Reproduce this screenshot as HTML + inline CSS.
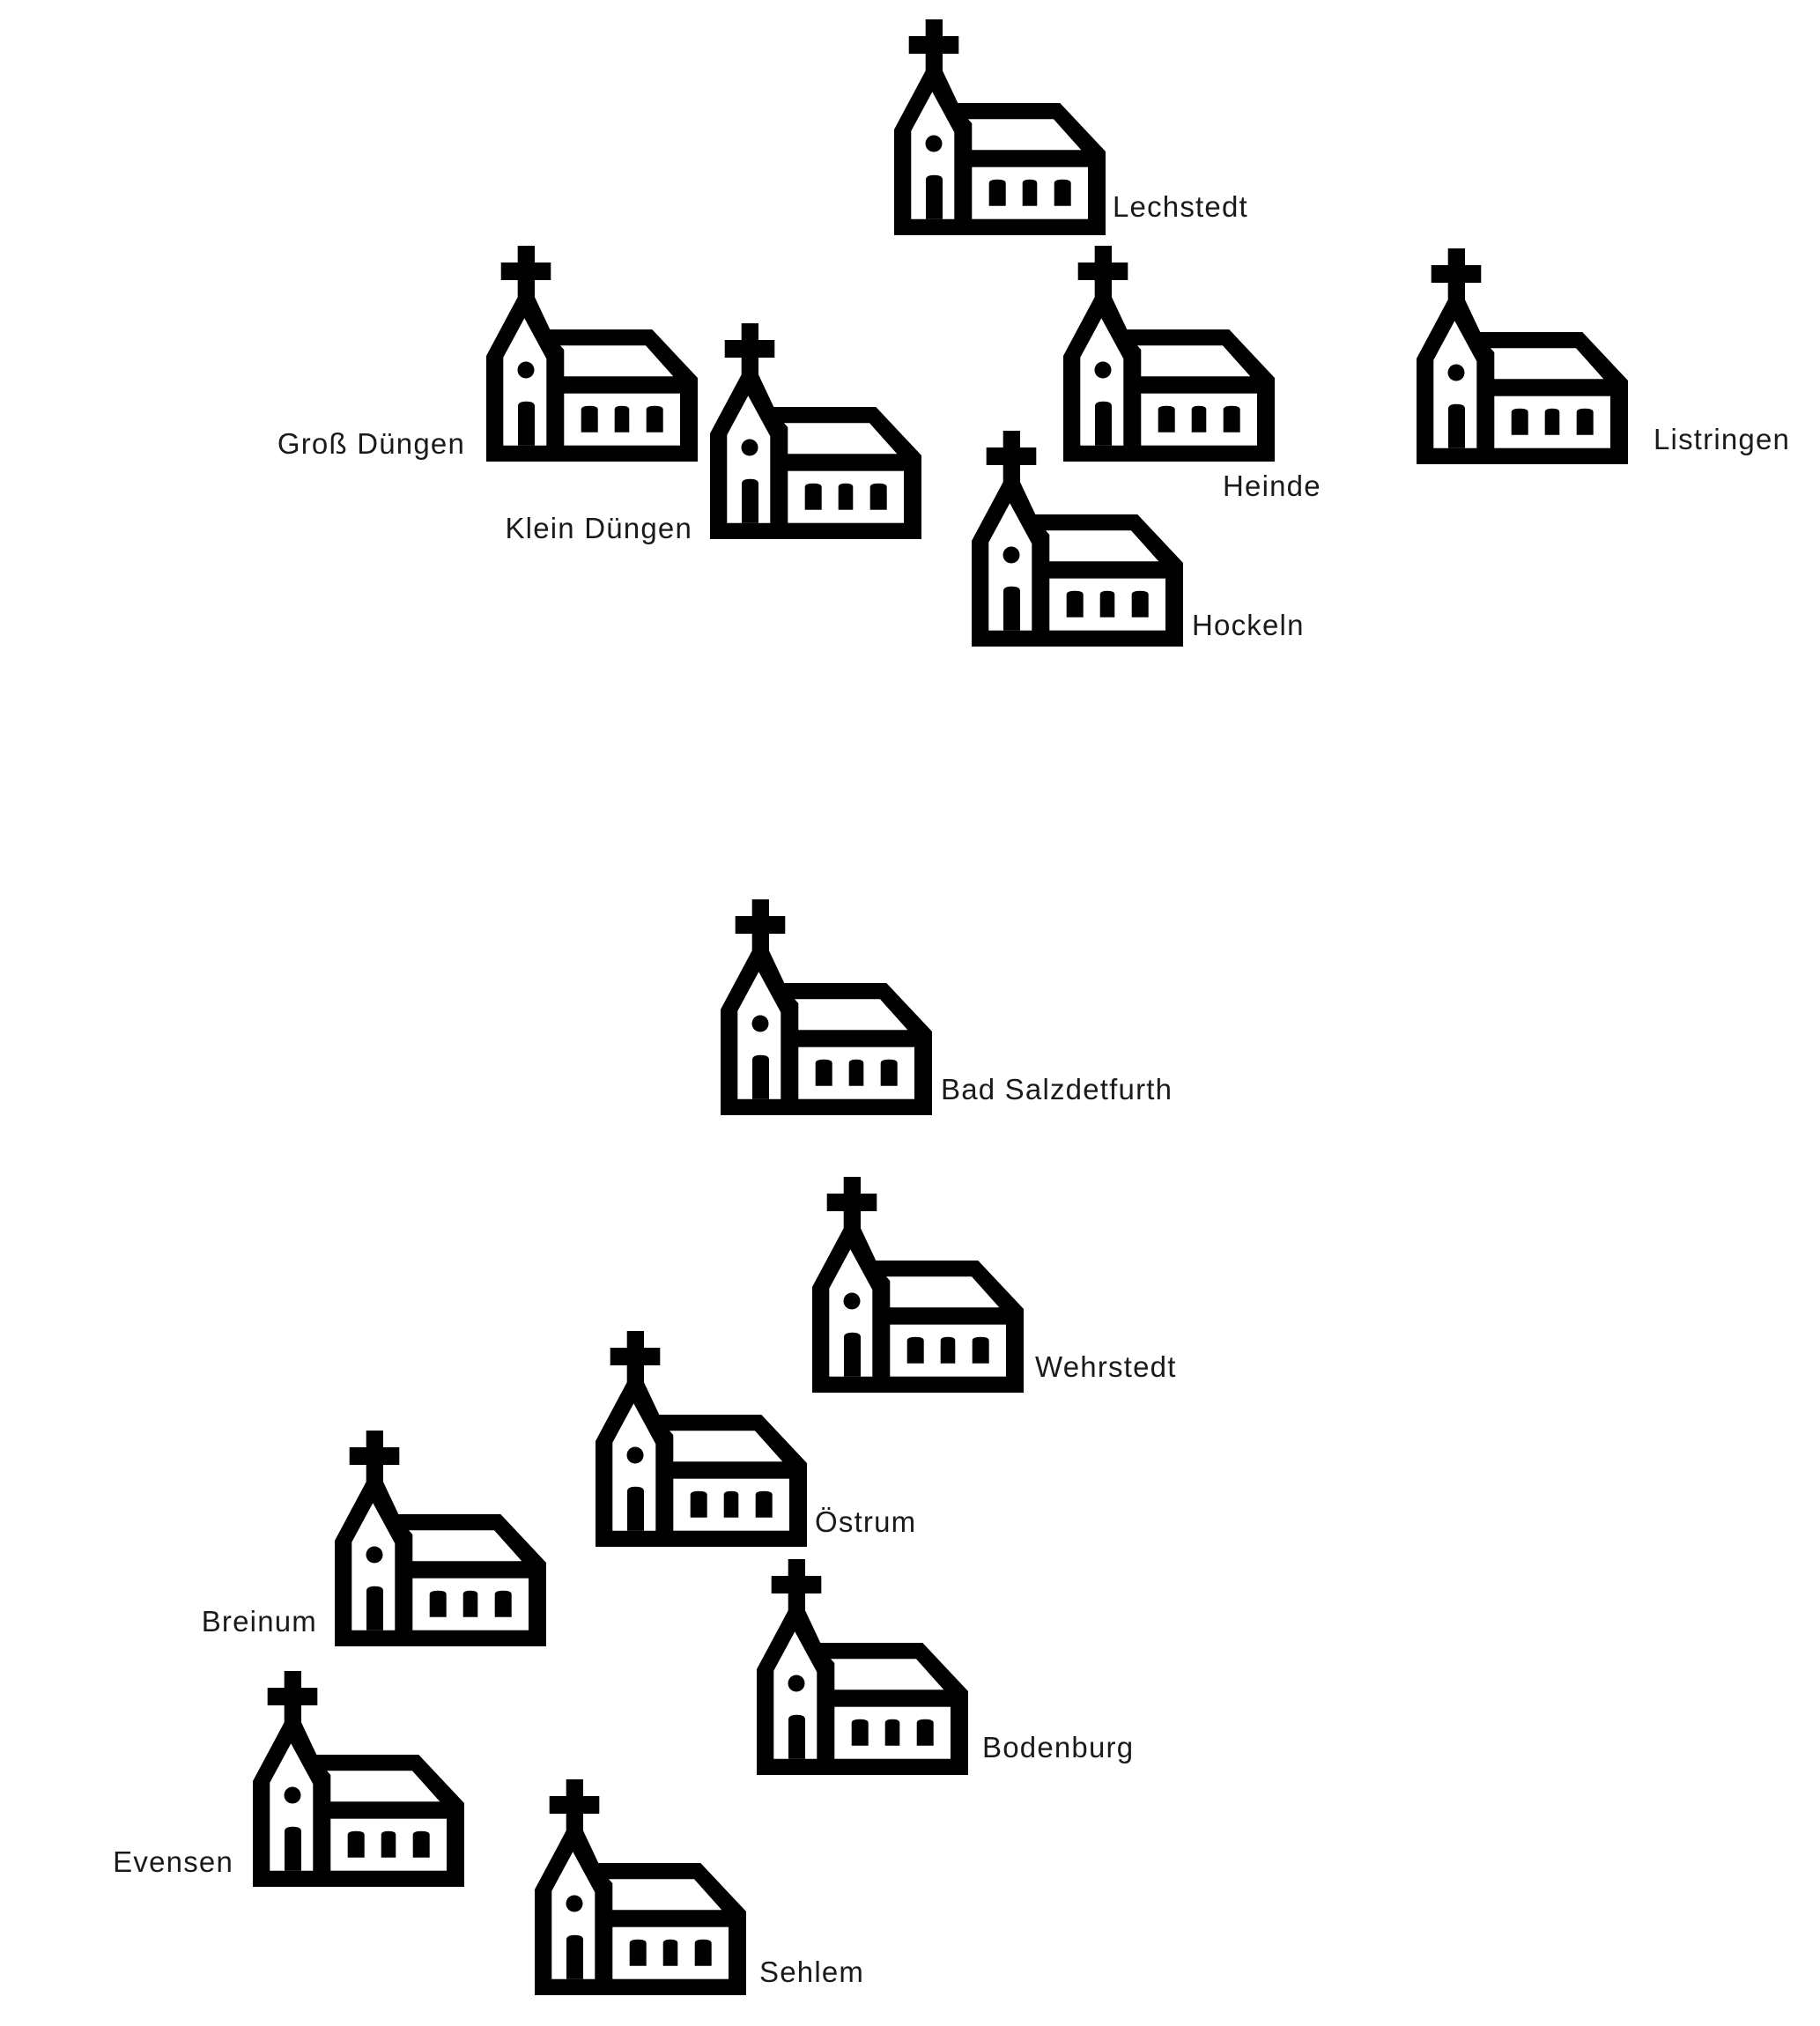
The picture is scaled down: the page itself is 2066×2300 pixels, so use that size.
<!DOCTYPE html>
<html><head><meta charset="utf-8"><style>
html,body{margin:0;padding:0;background:#fff;}
svg{display:block;}
text{font-family:"Liberation Sans",sans-serif;font-size:33px;letter-spacing:1.2px;fill:#1a1a1a;}
</style></head><body>
<svg width="2066" height="2300" viewBox="0 0 2066 2300" xmlns="http://www.w3.org/2000/svg">
<defs>
<g id="ch">
<rect x="35.7" y="0" width="19.3" height="62" fill="#000"/>
<rect x="16.7" y="19" width="56.6" height="20" fill="#000"/>
<polygon points="0,125 35.7,58.3 55,58.3 72.3,95 188.3,95 240,150 240,245 0,245" fill="#000"/>
<polygon points="19.3,126.7 43.3,82.3 68.3,128.3 68.3,226.7 19.3,226.7" fill="#fff"/>
<path d="M36,226.7 V182 Q36,176.7 45.5,176.7 Q55,176.7 55,182 V226.7 Z" fill="#000"/>
<circle cx="45" cy="141" r="9.5" fill="#000"/>
<polygon points="84,113.3 181,113.3 212.3,148.3 88.3,148.3 88.3,118" fill="#fff"/>
<rect x="88.3" y="167.7" width="131.7" height="59" fill="#fff"/>
<path d="M107.7,211.7 V186 Q107.7,181.7 117.2,181.7 Q126.7,181.7 126.7,186 V211.7 Z" fill="#000"/>
<path d="M145.7,211.7 V186 Q145.7,181.7 154,181.7 Q162.3,181.7 162.3,186 V211.7 Z" fill="#000"/>
<path d="M181.7,211.7 V186 Q181.7,181.7 191.2,181.7 Q200.7,181.7 200.7,186 V211.7 Z" fill="#000"/>
</g>
</defs>
<use href="#ch" x="1015" y="22"/><text x="1263" y="246">Lechstedt</text>
<use href="#ch" x="552" y="279"/><text x="528" y="515" text-anchor="end">Groß Düngen</text>
<use href="#ch" x="806" y="367"/><text x="786" y="611" text-anchor="end">Klein Düngen</text>
<use href="#ch" x="1207" y="279"/><text x="1388" y="563">Heinde</text>
<use href="#ch" x="1608" y="282"/><text x="1877" y="510">Listringen</text>
<use href="#ch" x="1103" y="489"/><text x="1353" y="721">Hockeln</text>
<use href="#ch" x="818" y="1021"/><text x="1068" y="1248">Bad Salzdetfurth</text>
<use href="#ch" x="922" y="1336"/><text x="1175" y="1563">Wehrstedt</text>
<use href="#ch" x="676" y="1511"/><text x="925" y="1739">Östrum</text>
<use href="#ch" x="380" y="1624"/><text x="360" y="1852" text-anchor="end">Breinum</text>
<use href="#ch" x="859" y="1770"/><text x="1115" y="1995">Bodenburg</text>
<use href="#ch" x="287" y="1897"/><text x="265" y="2125" text-anchor="end">Evensen</text>
<use href="#ch" x="607" y="2020"/><text x="862" y="2250">Sehlem</text>
</svg>
</body></html>
